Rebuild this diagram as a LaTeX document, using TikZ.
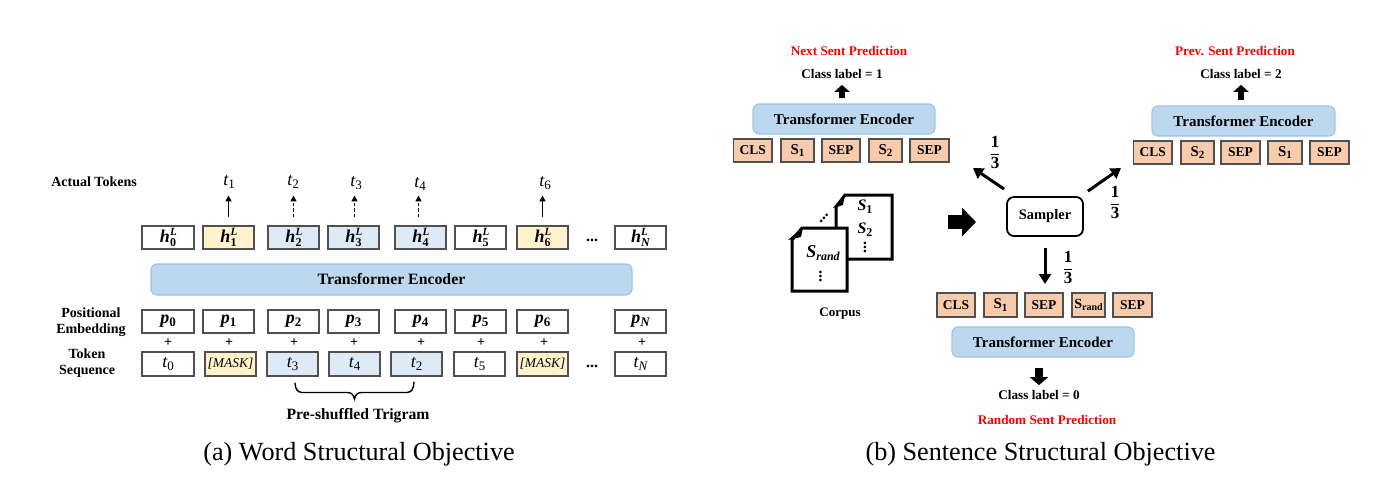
\documentclass[tikz,border=0pt]{standalone}
\usepackage{fontspec}
\setmainfont{Liberation Serif}
\usetikzlibrary{arrows.meta}
\definecolor{encfill}{HTML}{BDD7EE}
\definecolor{encline}{HTML}{9DC3E6}
\definecolor{yel}{HTML}{FFF2CC}
\definecolor{blu}{HTML}{DEEBF7}
\definecolor{ora}{HTML}{F8CBAD}
\definecolor{boxline}{HTML}{505050}
\newcommand\fsz[1]{\fontsize{#1}{#1}\selectfont}
\newcommand\hL[1]{{\fsz{18}\bfseries\itshape h\rlap{\raisebox{6.5pt}{\fsz{11}L}}\raisebox{-4pt}{\fsz{12}\upshape #1}}}
\newcommand\pb[1]{{\fsz{18}\bfseries\itshape p\raisebox{-3pt}{\fsz{13}\upshape #1}}}
\newcommand\tk[1]{{\fsz{18}\mdseries\itshape t\raisebox{-3pt}{\fsz{13}\upshape #1}}}
\newcommand\Sb[1]{{\fsz{15}\bfseries S\raisebox{-2.5pt}{\fsz{11}#1}}}
\newcommand\Si[1]{{\fsz{#1}\bfseries\itshape S}}
\newcommand\third{{\renewcommand\arraystretch{1.15}\setlength\arrayrulewidth{0.9pt}\begin{tabular}{@{}c@{}}1\\\hline 3\end{tabular}}}
\newcommand\vd{\rotatebox{90}{\fsz{16}\bfseries...}}
\tikzset{
  cellbox/.style={draw=boxline,line width=1.1pt,inner sep=0pt,font=\fsz{13.5}\bfseries},
  encoder/.style={draw=encline,fill=encfill,line width=1.1pt,rounded corners=6pt,inner sep=0pt,font=\fsz{15}\bfseries},
  lbl/.style={inner sep=0pt,font=\fsz{14}\bfseries},
  classlbl/.style={inner sep=0pt,font=\fsz{13.2}\bfseries},
  redlbl/.style={inner sep=0pt,font=\fsz{13.2}\bfseries,text=red},
  captext/.style={inner sep=0pt,font=\fsz{26.2}},
  plain/.style={inner sep=0pt},
  fractext/.style={inner sep=0pt,font=\fsz{17}\bfseries},
  thinarrow/.style={line width=1.6pt,-{Triangle[length=6pt,width=6pt]}},
  dasharrow/.style={line width=1.6pt,dash pattern=on 3.5pt off 2pt,-{Triangle[length=6pt,width=6pt]}},
  blockarrow/.style={line width=6pt,-{Triangle[length=7pt,width=15pt]}},
  bigblock/.style={line width=8pt,-{Triangle[length=8pt,width=18pt]}},
  samparrow/.style={line width=3pt,-{Triangle[length=10pt,width=12pt]}},
  bigarrow/.style={line width=14pt,-{Triangle[length=14pt,width=28pt]}},
  docpage/.style={draw=black,line width=3pt,fill=white,miter limit=2}
}
% \cell[style]{name}{x1}{x2}{y1}{y2}{text}
\newcommand\cell[7][]{\node[cellbox,#1,minimum width={#4-#3},minimum height={#6-#5}] (#2) at ({(#3+#4)/2},{(#5+#6)/2}) {#7};}
\begin{document}
\begin{tikzpicture}[x=1pt,y=-1pt]
\useasboundingbox (0,0) rectangle (1400,493);
% ---------- (a) ----------
\node[lbl] (actual) at (94,182) {Actual Tokens};
\node[lbl] (posa) at (91,313) {Positional};
\node[lbl] (posb) at (91,330) {Embedding};
\node[lbl] (toka) at (87,354) {Token};
\node[lbl] (tokb) at (87,371) {Sequence};
\cell{h0}{142}{194}{226}{249}{\hL{0}}
\cell[fill=yel]{h1}{203}{254}{226}{249}{\hL{1}}
\cell[fill=blu]{h2}{268}{319}{226}{249}{\hL{2}}
\cell[fill=blu]{h3}{328}{379}{226}{249}{\hL{3}}
\cell[fill=blu]{h4}{395}{446}{226}{249}{\hL{4}}
\cell{h5}{455}{506}{226}{249}{\hL{5}}
\cell[fill=yel]{h6}{517}{568}{226}{249}{\hL{6}}
\cell{hN}{615}{666}{226}{249}{\hL{\itshape N}}
\node[plain,font=\fsz{16}\bfseries] (dotsh) at (592,240) {...};
\node[plain] (t1) at (229,182) {\tk{1}};
\node[plain] (t2) at (293,182) {\tk{2}};
\node[plain] (t3) at (356,183) {\tk{3}};
\node[plain] (t4) at (420,184) {\tk{4}};
\node[plain] (t6) at (545,183) {\tk{6}};
\draw[thinarrow] ([yshift=8pt]h1.north) -- ([yshift=30pt]h1.north);
\draw[dasharrow] ([yshift=8pt]h2.north) -- ([yshift=30pt]h2.north);
\draw[dasharrow] ([xshift=1pt,yshift=8pt]h3.north) -- ([xshift=1pt,yshift=30pt]h3.north);
\draw[dasharrow] ([xshift=-2pt,yshift=8pt]h4.north) -- ([xshift=-2pt,yshift=30pt]h4.north);
\draw[thinarrow] ([yshift=8pt]h6.north) -- ([yshift=30pt]h6.north);
\cell[encoder,font=\fsz{15.8}\bfseries]{enca}{151}{632}{264}{295}{Transformer Encoder}
\cell{p0}{142}{194}{310}{333}{\pb{0}}
\cell{p1}{203}{254}{310}{333}{\pb{1}}
\cell{p2}{268}{319}{310}{333}{\pb{2}}
\cell{p3}{328}{379}{310}{333}{\pb{3}}
\cell{p4}{395}{446}{310}{333}{\pb{4}}
\cell{p5}{455}{506}{310}{333}{\pb{5}}
\cell{p6}{517}{568}{310}{333}{\pb{6}}
\cell{pN}{615}{666}{310}{333}{\pb{\itshape N}}
\foreach \n/\x in {a/168,b/229,c/294,d/354,e/421,f/481,g/544,h/642}
  \node[plain,font=\fsz{14}\bfseries] (plus\n) at (\x,343) {+};
\cell{s0}{142}{194}{352}{376}{\tk{0}}
\cell[fill=yel]{s1}{205}{256}{352}{376}{{\fsz{13.5}\mdseries\itshape[MASK]}}
\cell[fill=blu]{s3}{267}{318}{352}{376}{\tk{3}}
\cell[fill=blu]{s4}{329}{380}{352}{376}{\tk{4}}
\cell[fill=blu]{s2}{391}{442}{352}{376}{\tk{2}}
\cell{s5}{454}{505}{352}{376}{\tk{5}}
\cell[fill=yel]{s6}{517}{568}{352}{376}{{\fsz{13.5}\mdseries\itshape[MASK]}}
\cell{sN}{615}{666}{352}{376}{\tk{\itshape N}}
\node[plain,font=\fsz{16}\bfseries] (dotss) at (592,366) {...};
\draw[line width=1.4pt,line cap=round] (295,383) .. controls (295.5,389) and (297,392) .. (302,392.5) -- (347,392.5) .. controls (351,392.5) and (353.5,394) .. (354.5,399) .. controls (355.5,394) and (358,392.5) .. (362,392.5) -- (407,392.5) .. controls (412,392) and (413.5,389) .. (414,382);
\node[lbl,font=\fsz{15.7}\bfseries] (pres) at (358,416) {Pre-shuffled Trigram};
\node[captext] (capa) at (359,454) {(a) Word Structural Objective};
% ---------- (b) top left ----------
\node[redlbl] (nextp) at (849,51) {Next Sent Prediction};
\node[classlbl] (cl1) at (842,74) {Class label = 1};
\cell[encoder]{encl}{753}{935}{104}{134}{Transformer Encoder}
\cell[fill=ora]{la}{733.5}{772}{139}{162}{CLS}
\cell[fill=ora]{lb}{781}{814}{139}{162}{\Sb{1}}
\cell[fill=ora]{lc}{822}{860}{139}{162}{SEP}
\cell[fill=ora]{ld}{869}{902}{139}{162}{\Sb{2}}
\cell[fill=ora]{le}{910}{949}{139}{162}{SEP}
\draw[blockarrow] ([xshift=-2pt,yshift=5pt]encl.north) -- ([yshift=-6pt]cl1.south);
% ---------- (b) top right ----------
\node[redlbl] (prevp) at (1235,51) {Prev. Sent Prediction};
\node[classlbl] (cl2) at (1241,74) {Class label = 2};
\cell[encoder]{encr}{1152}{1335}{106}{136}{Transformer Encoder}
\cell[fill=ora]{ra}{1133.5}{1172}{141}{164}{CLS}
\cell[fill=ora]{rb}{1181}{1214}{141}{164}{\Sb{2}}
\cell[fill=ora]{rc}{1221}{1260}{141}{164}{SEP}
\cell[fill=ora]{rd}{1268}{1302}{141}{164}{\Sb{1}}
\cell[fill=ora]{re}{1310}{1349}{141}{164}{SEP}
\draw[blockarrow] ([xshift=-2.5pt,yshift=5pt]encr.north) -- ([yshift=-6pt]cl2.south);
% ---------- sampler ----------
\cell[draw=black,line width=1.8pt,rounded corners=7pt,font=\fsz{14.5}\bfseries]{samp}{1007}{1083}{197}{236}{Sampler}
\coordinate (ul) at (973,168);
\coordinate (ur) at (1121,168);
\coordinate (dn) at (1045,284);
\draw[samparrow] ([xshift=-2pt,yshift=7pt]samp.north west) -- (ul);
\draw[samparrow] ([xshift=4pt,yshift=5pt]samp.north east) -- (ur);
\draw[samparrow] ([yshift=-11pt]samp.south) -- (dn);
\node[fractext] (f1) at (995,154) {\third};
\node[fractext] (f2) at (1115,204) {\third};
\node[fractext] (f3) at (1068,269) {\third};
% ---------- corpus ----------
\draw[docpage] (845,195) -- (892,195) -- (892,259) -- (836,259) -- (836,207) -- cycle;
\fill (845,194) -- (833,208) -- (843,205) -- cycle;
\draw[docpage] (802,228) -- (847,228) -- (847,291) -- (792,291) -- (792,240) -- cycle;
\fill (803,227) -- (788,240) -- (801,237) -- cycle;
\node[plain] (ds1) at (865,207) {\Si{16}\raisebox{-3pt}{\fsz{12}\bfseries 1}};
\node[plain] (ds2) at (865,230) {\Si{16}\raisebox{-3pt}{\fsz{12}\bfseries 2}};
\node[plain] (dv1) at (865,247.5) {\vd};
\node[plain] (dsr) at (823,253) {\Si{18}\raisebox{-3pt}{\fsz{12}\bfseries\itshape rand}};
\node[plain] (dv2) at (820.5,276) {\vd};
\node[plain] (dd) at (824,218) {\rotatebox{45}{\fsz{16}\bfseries...}};
\node[lbl,font=\fsz{13}\bfseries] (corp) at (840,314) {Corpus};
\coordinate (bigs) at (948,222);
\coordinate (bige) at (976,222);
\draw[bigarrow] (bigs) -- (bige);
% ---------- (b) bottom ----------
\cell[fill=ora]{ba}{937}{975}{293}{317}{CLS}
\cell[fill=ora]{bb}{984}{1017}{293}{317}{\Sb{1}}
\cell[fill=ora]{bc}{1025}{1063}{293}{317}{SEP}
\cell[fill=ora]{bd}{1072}{1105}{293}{317}{{\fsz{14}\bfseries S\raisebox{-2.5pt}{\fsz{10}rand}}}
\cell[fill=ora]{be}{1113}{1152}{293}{317}{SEP}
\cell[encoder]{encb}{952}{1134}{327}{357}{Transformer Encoder}
\node[classlbl] (cl0) at (1039,395) {Class label = 0};
\node[redlbl] (randp) at (1047,420) {Random Sent Prediction};
\draw[bigblock] ([xshift=-4pt,yshift=-10pt]encb.south) -- ([xshift=0pt,yshift=5pt]cl0.north);
\node[captext] (capb) at (1040.5,454) {(b) Sentence Structural Objective};
\end{tikzpicture}
\end{document}
